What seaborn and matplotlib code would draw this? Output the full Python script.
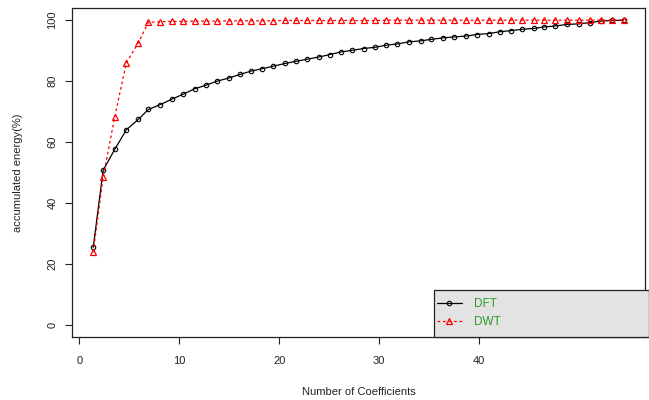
import numpy as np
import pandas as pd
import matplotlib
matplotlib.use("Agg")
import matplotlib.pyplot as plt
import seaborn as sns
from matplotlib.patches import Rectangle

# Position of each coefficient count on the x axis
coef_x = [1.39, 2.38, 3.54, 4.70, 5.89, 6.91, 8.11, 9.27, 10.39, 11.55,
          12.70, 13.79, 14.95, 16.07, 17.20, 18.32, 19.41, 20.58, 21.67, 22.82,
          23.95, 25.04, 26.19, 27.28, 28.44, 29.56, 30.72, 31.82, 32.98, 34.13,
          35.19, 36.38, 37.50, 38.69, 39.75, 40.94, 42.06, 43.22, 44.31, 45.44,
          46.53, 47.62, 48.78, 49.94, 51.06, 52.15, 53.31, 54.46]

# Accumulated energy (%) kept by the first N coefficients
dft_energy = [25.4, 50.7, 57.6, 64.0, 67.4, 70.7, 72.3, 74.1, 75.7, 77.5,
              78.7, 80.0, 81.0, 82.2, 83.3, 84.1, 84.9, 85.8, 86.5, 87.2,
              87.9, 88.7, 89.6, 90.1, 90.7, 91.1, 91.8, 92.2, 92.9, 93.2,
              93.7, 94.2, 94.5, 94.8, 95.3, 95.6, 96.2, 96.6, 97.0, 97.3,
              97.8, 98.1, 98.6, 98.8, 99.2, 99.7, 99.9, 100.0]
dwt_energy = [23.8, 48.4, 68.2, 86.0, 92.5, 99.3, 99.5, 99.6, 99.6, 99.7,
              99.7, 99.7, 99.8, 99.8, 99.8, 99.8, 99.8, 99.9, 99.9, 99.9,
              99.9, 99.9, 99.9, 99.9, 99.9, 99.9, 100.0, 100.0, 100.0, 100.0,
              100.0, 100.0, 100.0, 100.0, 100.0, 100.0, 100.0, 100.0, 100.0, 100.0,
              100.0, 100.0, 100.0, 100.0, 100.0, 100.0, 100.0, 100.0]

x_ticks = [0, 10, 20, 30, 40]
y_ticks = [0, 20, 40, 60, 80, 100]
series_names = ["DFT", "DWT"]

sns.set_style("ticks")
plt.rcParams["font.family"] = ["Liberation Sans", "DejaVu Sans"]
plt.rcParams["font.size"] = 8

W, H = 649, 400
fig = plt.figure(figsize=(W / 100, H / 100), dpi=100)
ax_l, ax_r, ax_t, ax_b = 72, 645, 8, 337
ax = fig.add_axes([ax_l / W, 1 - ax_b / H, (ax_r - ax_l) / W, (ax_b - ax_t) / H])

sns.lineplot(x=coef_x, y=dft_energy, ax=ax, color="black", linewidth=0.9,
             marker="o", markersize=3.2, markerfacecolor="none",
             markeredgecolor="black", markeredgewidth=0.8,
             label=series_names[0], legend=False)
sns.lineplot(x=coef_x, y=dwt_energy, ax=ax, color="#ff0000", linewidth=0.9,
             linestyle=(0, (2.2, 2.2)),
             marker="^", markersize=5, markerfacecolor="none",
             markeredgecolor="#ff0000", markeredgewidth=0.9,
             label=series_names[1], legend=False)

span_x = coef_x[-1] - coef_x[0]
ax.set_xlim(coef_x[0] - 0.04 * span_x, coef_x[-1] + 0.04 * span_x)
ax.set_ylim(-4, 104)
ax.set_xticks(x_ticks)
ax.set_yticks(y_ticks)

for s in ax.spines.values():
    s.set_visible(True)
    s.set_color("#222222")
    s.set_linewidth(0.9)

ax.tick_params(axis="both", direction="out", length=5, width=0.8,
               color="#222222", labelsize=8, labelcolor="#222222")
ax.tick_params(axis="x", pad=9)
ax.tick_params(axis="y", pad=5.5, labelrotation=90)
for lab in ax.get_yticklabels():
    lab.set_va("center")

ax.set_xlabel("Number of Coefficients", fontsize=8, color="#222222")
ax.set_ylabel("accumulated energy(%)", fontsize=8, color="#222222")
ax_w, ax_h = ax_r - ax_l, ax_b - ax_t
ax.xaxis.set_label_coords(0.5, -(391.7 - ax_b) / ax_h)
ax.xaxis.label.set_va("center")
ax.yaxis.set_label_coords((18 - ax_l) / ax_w, 0.5)
ax.yaxis.label.set_va("center")

# Grey legend panel in the lower right corner
leg_l, leg_t = 434, 290
ax.add_patch(Rectangle(((leg_l - ax_l) / ax_w, 0), (W - leg_l) / ax_w,
                       (ax_b - leg_t) / ax_h, transform=ax.transAxes,
                       facecolor="#e3e3e3", edgecolor="#222222", linewidth=0.9,
                       clip_on=False, zorder=3))
leg = ax.legend(loc="center left",
                bbox_to_anchor=((436.5 - ax_l) / ax_w, (ax_b - 313.3) / ax_h),
                frameon=False, borderpad=0, borderaxespad=0,
                handlelength=2.2, handletextpad=1.0, labelspacing=0.5,
                fontsize=8.5, labelcolor="#2a9a2a")
leg.set_zorder(4)

fig.savefig("out.png", dpi=100)
